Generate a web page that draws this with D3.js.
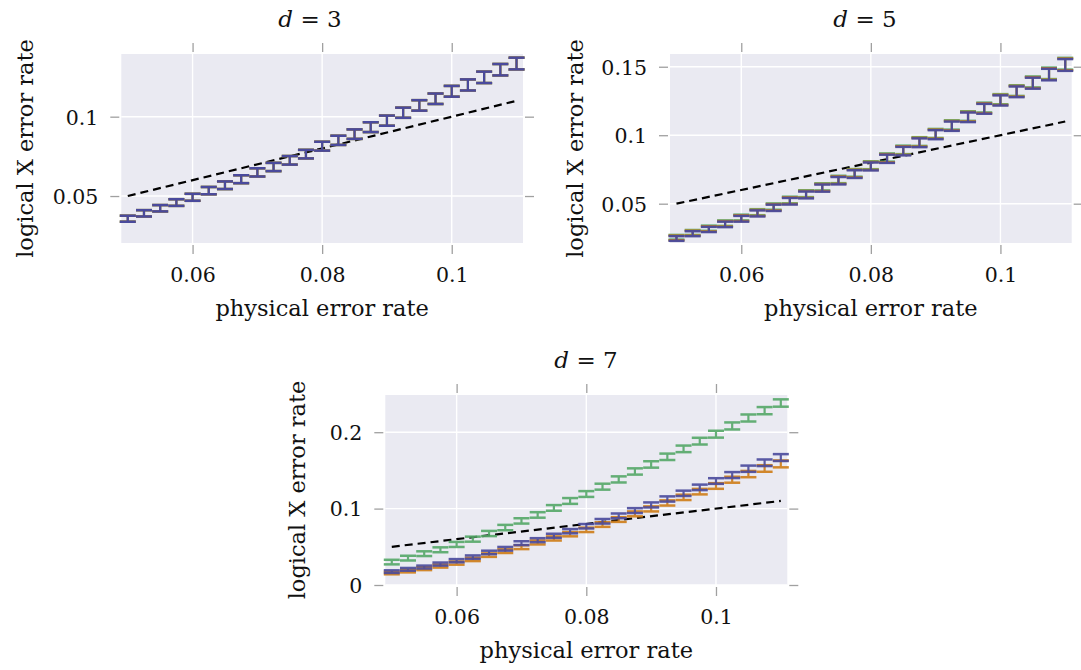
<!DOCTYPE html>
<html><head><meta charset="utf-8">
<script src="https://cdn.jsdelivr.net/npm/d3@7/dist/d3.min.js"></script>
<style>body{margin:0;background:#fff;} text{font-family:"DejaVu Serif",serif;fill:#111;}</style>
</head><body>
<script>
// ---------- data ----------
const physRate = [0.05,0.0525,0.055,0.0575,0.06,0.0625,0.065,0.0675,0.07,0.0725,0.075,0.0775,0.08,0.0825,0.085,0.0875,0.09,0.0925,0.095,0.0975,0.1,0.1025,0.105,0.1075,0.11];
const refLineX = [0.05, 0.11];
const refLineY = [0.05, 0.11];
const xTickVals = [0.06, 0.08, 0.1];
const xTickLabels = ["0.06","0.08","0.1"];

// d = 3 (all three series coincide)
const d3Green  = [0.0357,0.0391,0.0423,0.0459,0.0492,0.0534,0.0568,0.0606,0.0649,0.0683,0.0725,0.0764,0.0814,0.0851,0.0890,0.0934,0.0975,0.1025,0.1071,0.1113,0.1160,0.1200,0.1248,0.1296,0.1335];
const d3Orange = [0.0357,0.0391,0.0423,0.0459,0.0492,0.0534,0.0568,0.0606,0.0649,0.0683,0.0725,0.0764,0.0814,0.0851,0.0890,0.0934,0.0975,0.1025,0.1071,0.1113,0.1160,0.1200,0.1248,0.1296,0.1335];
const d3Purple = [0.0357,0.0391,0.0423,0.0459,0.0492,0.0534,0.0568,0.0606,0.0649,0.0683,0.0725,0.0764,0.0814,0.0851,0.0890,0.0934,0.0975,0.1025,0.1071,0.1113,0.1160,0.1200,0.1248,0.1296,0.1335];
const d3Err    = [0.0019,0.0020,0.0020,0.0021,0.0022,0.0023,0.0024,0.0025,0.0026,0.0026,0.0027,0.0027,0.0028,0.0029,0.0030,0.0031,0.0032,0.0032,0.0033,0.0033,0.0034,0.0035,0.0036,0.0036,0.0037];
const d3YTicks = [0.05, 0.1];
const d3YLabels = ["0.05","0.1"];

// d = 5
const d5Green  = [0.0255,0.0290,0.0321,0.0358,0.0399,0.0438,0.0479,0.0527,0.0573,0.0623,0.0677,0.0725,0.0781,0.0837,0.0893,0.0954,0.1013,0.1075,0.1140,0.1202,0.1263,0.1326,0.1389,0.1452,0.1522];
const d5Orange = [0.0250,0.0285,0.0316,0.0353,0.0394,0.0433,0.0474,0.0522,0.0568,0.0618,0.0672,0.0720,0.0776,0.0832,0.0888,0.0949,0.1008,0.1070,0.1135,0.1197,0.1258,0.1321,0.1384,0.1447,0.1517];
const d5Purple = [0.0246,0.0281,0.0312,0.0349,0.0390,0.0429,0.0470,0.0518,0.0564,0.0614,0.0668,0.0716,0.0772,0.0828,0.0884,0.0945,0.1004,0.1066,0.1131,0.1193,0.1254,0.1317,0.1380,0.1443,0.1513];
const d5Err    = [0.0017,0.0018,0.0019,0.0020,0.0021,0.0022,0.0023,0.0024,0.0025,0.0026,0.0027,0.0028,0.0029,0.0030,0.0031,0.0032,0.0033,0.0034,0.0035,0.0036,0.0037,0.0039,0.0040,0.0042,0.0043];
const d5YTicks = [0.05, 0.1, 0.15];
const d5YLabels = ["0.05","0.1","0.15"];

// d = 7
const d7Green  = [0.0300,0.0352,0.0410,0.0461,0.0531,0.0600,0.0674,0.0752,0.0839,0.0917,0.1009,0.1100,0.1191,0.1287,0.1382,0.1486,0.1578,0.1678,0.1782,0.1883,0.1974,0.2082,0.2186,0.2282,0.2382];
const d7Purple = [0.0175,0.0205,0.0235,0.0274,0.0318,0.0365,0.0426,0.0474,0.0548,0.0587,0.0644,0.0704,0.0769,0.0834,0.0905,0.0974,0.1048,0.1126,0.1200,0.1278,0.1361,0.1439,0.1522,0.1600,0.1668];
const d7Orange = [0.0157,0.0183,0.0214,0.0248,0.0287,0.0335,0.0391,0.0443,0.0495,0.0557,0.0609,0.0665,0.0722,0.0791,0.0857,0.0931,0.0996,0.1074,0.1147,0.1222,0.1296,0.1378,0.1452,0.1525,0.1585];
const d7GreenErr = [0.0030,0.0031,0.0031,0.0032,0.0033,0.0033,0.0034,0.0035,0.0035,0.0036,0.0037,0.0038,0.0038,0.0039,0.0040,0.0041,0.0042,0.0042,0.0043,0.0044,0.0045,0.0046,0.0046,0.0047,0.0048];
const d7Err    = [0.0017,0.0018,0.0019,0.0020,0.0021,0.0022,0.0023,0.0024,0.0025,0.0026,0.0027,0.0028,0.0029,0.0030,0.0031,0.0032,0.0033,0.0034,0.0035,0.0036,0.0037,0.0039,0.0041,0.0043,0.0045];
const d7YTicks = [0, 0.1, 0.2];
const d7YLabels = ["0","0.1","0.2"];

const GREEN = "#55a868", ORANGE = "#cf7d17", PURPLE = "#4a4a9c";

// ---------- drawing ----------
const svg = d3.select("body").append("svg").attr("width",1081).attr("height",670);

function panel(cfg){
  const x = d3.scaleLinear().domain([0.049,0.111]).range([cfg.x0,cfg.x1]);
  const y = d3.scaleLinear().domain(cfg.yDom).range([cfg.y1,cfg.y0]);
  const g = svg.append("g");
  g.append("rect").attr("x",cfg.x0).attr("y",cfg.y0).attr("width",cfg.x1-cfg.x0).attr("height",cfg.y1-cfg.y0).attr("fill","#EAEAF2");
  // grid
  g.selectAll(".gx").data(xTickVals).enter().append("line")
    .attr("x1",d=>x(d)).attr("x2",d=>x(d)).attr("y1",cfg.y0).attr("y2",cfg.y1)
    .attr("stroke","#fff").attr("stroke-width",1.4);
  g.selectAll(".gy").data(cfg.yTicks).enter().append("line")
    .attr("y1",d=>y(d)).attr("y2",d=>y(d)).attr("x1",cfg.x0).attr("x2",cfg.x1)
    .attr("stroke","#fff").attr("stroke-width",1.4);
  // axes (ticks on four sides)
  const fmtX = (d,i)=>xTickLabels[i];
  const fmtY = (d,i)=>cfg.yLabels[i];
  const styleAxis = a => { a.select(".domain").remove(); a.selectAll("line").attr("stroke","#a0a0a0").attr("stroke-width",1.3); };
  const bx = g.append("g").attr("transform",`translate(0,${cfg.y1+2})`)
    .call(d3.axisBottom(x).tickValues(xTickVals).tickFormat(fmtX).tickSize(9).tickSizeOuter(0));
  styleAxis(bx);
  bx.selectAll("text").attr("y",37).attr("dy",0).attr("font-size",20.5).attr("font-family","DejaVu Serif").attr("fill","#111");
  const tx = g.append("g").attr("transform",`translate(0,${cfg.y0-2})`)
    .call(d3.axisTop(x).tickValues(xTickVals).tickFormat("").tickSize(9).tickSizeOuter(0));
  styleAxis(tx);
  const ly = g.append("g").attr("transform",`translate(${cfg.x0-2},0)`)
    .call(d3.axisLeft(y).tickValues(cfg.yTicks).tickFormat(fmtY).tickSize(9).tickSizeOuter(0));
  styleAxis(ly);
  ly.selectAll("text").attr("x",-21).attr("dy","0.36em").attr("font-size",20.5).attr("font-family","DejaVu Serif").attr("fill","#111");
  const ry = g.append("g").attr("transform",`translate(${cfg.x1+2},0)`)
    .call(d3.axisRight(y).tickValues(cfg.yTicks).tickFormat("").tickSize(9).tickSizeOuter(0));
  styleAxis(ry);
  // reference dashed line
  const pts = refLineX.map((v,i)=>[v,refLineY[i]]);
  g.append("path").attr("d",d3.line().x(d=>x(d[0])).y(d=>y(d[1]))(pts))
    .attr("fill","none").attr("stroke","#000").attr("stroke-width",2.2).attr("stroke-dasharray","8,5");
  // error bars
  cfg.series.forEach(s=>{
    const sg = g.append("g").attr("stroke",s.color).attr("opacity",s.op);
    physRate.forEach((px,i)=>{
      const v = s.vals[i], e = s.err[i];
      const cx = x(px), yt = y(v+e), yb = y(v-e);
      sg.append("line").attr("x1",cx).attr("x2",cx).attr("y1",yt).attr("y2",yb).attr("stroke-width",2.2);
      sg.append("line").attr("x1",cx-8).attr("x2",cx+8).attr("y1",yt).attr("y2",yt).attr("stroke-width",2.5);
      sg.append("line").attr("x1",cx-8).attr("x2",cx+8).attr("y1",yb).attr("y2",yb).attr("stroke-width",2.5);
    });
  });
  // labels
  const t = g.append("text").attr("x",cfg.titleX).attr("y",cfg.y0-27).attr("text-anchor","middle").attr("font-size",23);
  t.append("tspan").attr("font-style","italic").text("d");
  t.append("tspan").text(" = " + cfg.d);
  g.append("text").attr("x",(cfg.x0+cfg.x1)/2).attr("y",cfg.y1+73).attr("text-anchor","middle").attr("font-size",22.5).text("physical error rate");
  g.append("text").attr("transform",`translate(${cfg.ylabX},${(cfg.y0+cfg.y1)/2}) rotate(-90)`).attr("text-anchor","middle").attr("font-size",22.5).text("logical X error rate");
}

panel({x0:121.3,x1:523,y0:54,y1:243,yDom:[0.0204,0.1395],yTicks:d3YTicks,yLabels:d3YLabels,titleX:310,d:3,ylabX:33,
  series:[{vals:d3Green,err:d3Err,color:GREEN,op:0.9},{vals:d3Orange,err:d3Err,color:ORANGE,op:0.9},{vals:d3Purple,err:d3Err,color:PURPLE,op:1}]});
panel({x0:670,x1:1071.7,y0:54,y1:243,yDom:[0.0213,0.1593],yTicks:d5YTicks,yLabels:d5YLabels,titleX:865,d:5,ylabX:583,
  series:[{vals:d5Green,err:d5Err,color:GREEN,op:0.9},{vals:d5Orange,err:d5Err,color:ORANGE,op:0.9},{vals:d5Purple,err:d5Err,color:PURPLE,op:0.95}]});
panel({x0:385.3,x1:787.3,y0:395,y1:585,yDom:[0,0.2487],yTicks:d7YTicks,yLabels:d7YLabels,titleX:586,d:7,ylabX:305,
  series:[{vals:d7Green,err:d7GreenErr,color:GREEN,op:0.9},{vals:d7Orange,err:d7Err,color:ORANGE,op:0.9},{vals:d7Purple,err:d7Err,color:PURPLE,op:0.9}]});
</script>
</body></html>
